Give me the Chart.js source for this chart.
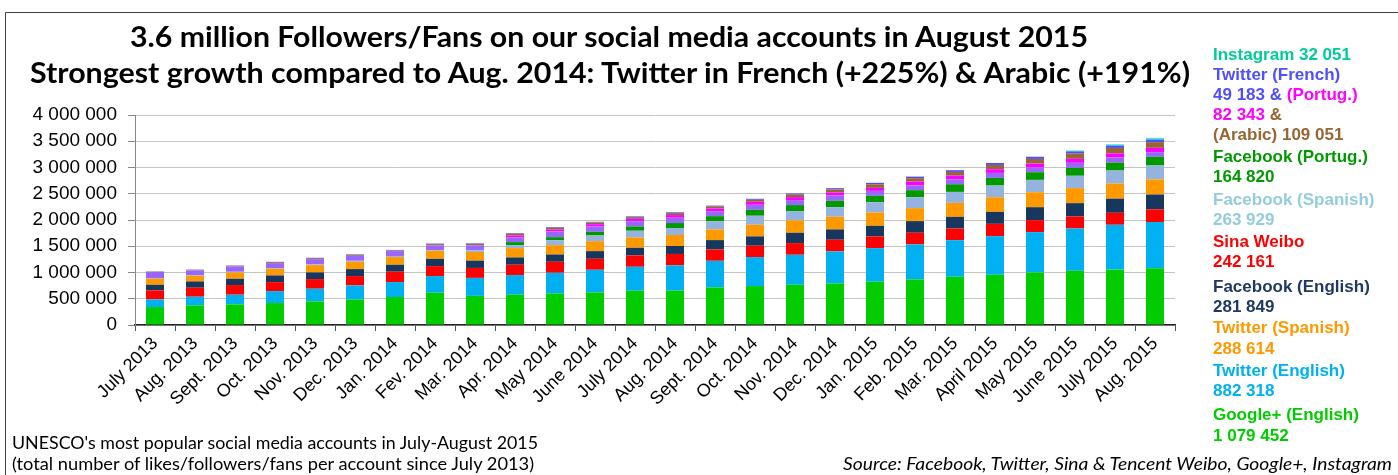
<!DOCTYPE html>
<html><head><meta charset="utf-8">
<script src="https://cdn.jsdelivr.net/npm/chart.js@4.4.0/dist/chart.umd.min.js"></script>
<style>
html,body{margin:0;padding:0;background:#fff;overflow:hidden}
#wrap{position:relative;width:1398px;height:475px;background:#fff}
canvas{position:absolute;left:0;top:0}
svg{position:absolute;left:0;top:0}
.lg{font-family:"Liberation Sans",Arial,sans-serif;font-weight:bold;font-size:17px}
.ttl{font-family:Lato,"Open Sans",sans-serif;font-weight:bold;font-size:28px;fill:#000}
.note{font-family:Lato,"Open Sans",sans-serif;font-size:18px;fill:#000}
</style></head><body>
<div id="wrap">
<canvas id="c" width="1398" height="475" style="width:1398px;height:475px"></canvas>
<svg width="1398" height="475" viewBox="0 0 1398 475">
  <line x1="5.5" y1="12.5" x2="1398" y2="12.5" stroke="#404040" stroke-width="1"/>
  <line x1="5.5" y1="12.5" x2="5.5" y2="475" stroke="#404040" stroke-width="1"/>
  <text class="ttl" x="130" y="47" textLength="958" lengthAdjust="spacingAndGlyphs">3.6 million Followers/Fans on our social media accounts in August 2015</text>
  <text class="ttl" x="30" y="83" textLength="1160" lengthAdjust="spacingAndGlyphs">Strongest growth compared to Aug. 2014: Twitter in French (+225%) &amp; Arabic (+191%)</text>
  <text class="lg" x="1213" y="60" fill="#00CC99">Instagram 32 051</text>
  <text class="lg" x="1213" y="80" fill="#4F4FFF">Twitter (French)</text>
  <text class="lg" x="1213" y="100"><tspan fill="#4F4FFF">49 183 &amp; </tspan><tspan fill="#FF00FF">(Portug.)</tspan></text>
  <text class="lg" x="1213" y="120"><tspan fill="#FF00FF">82 343 </tspan><tspan fill="#996633">&amp;</tspan></text>
  <text class="lg" x="1213" y="140" fill="#996633">(Arabic) 109 051</text>
  <text class="lg" x="1213" y="162" fill="#009900">Facebook (Portug.)</text>
  <text class="lg" x="1213" y="182" fill="#009900">164 820</text>
  <text class="lg" x="1213" y="205" fill="#93CDDD">Facebook (Spanish)</text>
  <text class="lg" x="1213" y="225" fill="#93CDDD">263 929</text>
  <text class="lg" x="1213" y="247" fill="#FF0000">Sina Weibo</text>
  <text class="lg" x="1213" y="267" fill="#FF0000">242 161</text>
  <text class="lg" x="1213" y="292" fill="#1F3864">Facebook (English)</text>
  <text class="lg" x="1213" y="312" fill="#1F3864">281 849</text>
  <text class="lg" x="1213" y="333" fill="#FF9900">Twitter (Spanish)</text>
  <text class="lg" x="1213" y="354" fill="#FF9900">288 614</text>
  <text class="lg" x="1213" y="376" fill="#00B0F0">Twitter (English)</text>
  <text class="lg" x="1213" y="396" fill="#00B0F0">882 318</text>
  <text class="lg" x="1213" y="420" fill="#00CC00">Google+ (English)</text>
  <text class="lg" x="1213" y="441" fill="#00CC00">1 079 452</text>
  <text class="note" x="12" y="449" textLength="526" lengthAdjust="spacingAndGlyphs">UNESCO's most popular social media accounts in July-August 2015</text>
  <text class="note" x="12" y="470" textLength="522" lengthAdjust="spacingAndGlyphs">(total number of likes/followers/fans per account since July 2013)</text>
  <text class="note" x="843" y="470" font-style="italic" textLength="549" lengthAdjust="spacingAndGlyphs">Source: Facebook, Twitter, Sina &amp; Tencent Weibo, Google+, Instagram</text>
</svg>
</div>
<script>
const categories = ["July 2013","Aug. 2013","Sept. 2013","Oct. 2013","Nov. 2013","Dec. 2013","Jan. 2014","Fev. 2014","Mar. 2014","Apr. 2014","May 2014","June 2014","July 2014","Aug. 2014","Sept. 2014","Oct. 2014","Nov. 2014","Dec. 2014","Jan. 2015","Feb. 2015","Mar. 2015","April 2015","May 2015","June 2015","July 2015","Aug. 2015"];

const googlePlusEnglish = [342000,374000,393000,418000,450000,488000,533000,615000,555000,577000,602000,621000,653000,655000,716000,742000,767000,793000,824000,869000,919000,957000,1002000,1033000,1059000,1079452];
const twitterEnglish    = [146000,165000,184000,228000,241000,266000,285000,317000,342000,374000,393000,431000,456000,482000,507000,552000,571000,609000,640000,666000,697000,735000,767000,805000,850000,882318];
const sinaWeibo         = [171000,171000,184000,171000,184000,178000,197000,190000,190000,197000,209000,209000,216000,216000,216000,216000,222000,222000,222000,222000,222000,235000,228000,228000,228000,242161];
const facebookEnglish   = [108000,120000,120000,127000,127000,133000,133000,139000,139000,139000,139000,146000,146000,152000,178000,178000,197000,197000,203000,222000,222000,228000,247000,255000,270000,281849];
const twitterSpanish    = [114000,108000,120000,127000,139000,139000,146000,152000,165000,178000,178000,190000,197000,209000,203000,222000,235000,241000,254000,247000,266000,279000,285000,286000,288000,288614];
const facebookSpanish   = [6000,13000,13000,13000,13000,19000,19000,13000,32000,57000,95000,108000,127000,133000,158000,171000,178000,184000,197000,209000,209000,222000,235000,235000,247000,263929];
const facebookPortug    = [0,0,0,0,0,0,0,0,0,57000,57000,70000,82000,95000,95000,114000,114000,120000,120000,133000,146000,146000,146000,152000,152000,164820];
const tencentWeibo      = [127000,89000,101000,95000,101000,95000,95000,89000,95000,89000,108000,101000,101000,101000,95000,95000,95000,101000,95000,89000,95000,95000,89000,95000,95000,89000];
const twitterPortug     = [0,0,0,0,0,0,0,0,0,38000,38000,44000,44000,51000,51000,57000,57000,57000,57000,76000,70000,70000,76000,76000,80000,82343];
const twitterArabic     = [5000,12000,15000,18000,18000,20000,12000,25000,24000,33000,32000,32000,33000,37500,38000,38000,48000,57000,68000,63000,70000,82000,89000,100000,104000,109051];
const twitterFrench     = [3000,4000,5000,6000,7000,9000,10000,11000,12000,12000,13000,14000,14000,15100,17000,19000,22000,25000,28000,30000,33000,37000,41000,42000,45000,49183];
const instagram         = [0,0,0,0,0,0,0,0,0,0,0,0,0,0,0,0,0,0,0,0,0,0,0,18000,25000,32051];

const yTickStep = 500000;
const yMax = 4000000;

const series = [
  {label:"Google+ (English)", data:googlePlusEnglish, color:"#00CC00"},
  {label:"Twitter (English)", data:twitterEnglish, color:"#00B0F0"},
  {label:"Sina Weibo", data:sinaWeibo, color:"#FF0000"},
  {label:"Facebook (English)", data:facebookEnglish, color:"#17375E"},
  {label:"Twitter (Spanish)", data:twitterSpanish, color:"#FF9900"},
  {label:"Facebook (Spanish)", data:facebookSpanish, color:"#95B3DF"},
  {label:"Facebook (Portug.)", data:facebookPortug, color:"#009900"},
  {label:"Tencent Weibo", data:tencentWeibo, color:"#9966FF"},
  {label:"Twitter (Portug.)", data:twitterPortug, color:"#FF00FF"},
  {label:"Twitter (Arabic)", data:twitterArabic, color:"#996633"},
  {label:"Twitter (French)", data:twitterFrench, color:"#4D4DFF"},
  {label:"Instagram", data:instagram, color:"#33EECC"}
];

function fmt(v){ return String(v).replace(/\B(?=(\d{3})+(?!\d))/g, ' '); }

new Chart(document.getElementById('c').getContext('2d'), {
  type: 'bar',
  data: {
    labels: categories,
    datasets: series.map(s => ({
      label: s.label, data: s.data, backgroundColor: s.color,
      borderWidth: 0, categoryPercentage: 0.9, barPercentage: 0.5
    }))
  },
  options: {
    responsive: false,
    animation: false,
    devicePixelRatio: 1,
    layout: {padding: {left: 10, right: 223, top: 115, bottom: 0}},
    plugins: {legend: {display: false}, tooltip: {enabled: false}, title: {display: false}},
    scales: {
      x: {
        stacked: true,
        grid: {display: true, drawOnChartArea: false, drawTicks: true, tickLength: 6, tickColor: '#555', offset: true},
        border: {display: true, color: '#222', width: 1.5},
        ticks: {minRotation: 45, maxRotation: 45, autoSkip: false, color: '#000',
                font: {family: '"Liberation Sans", Arial, sans-serif', size: 18}, padding: 2},
        afterFit(s){ s.height = 150; }
      },
      y: {
        stacked: true, min: 0, max: yMax,
        ticks: {stepSize: yTickStep, color: '#000', padding: 11,
                font: {family: '"Liberation Sans", Arial, sans-serif', size: 19},
                callback: v => fmt(v)},
        grid: {color: '#C4C4C4', tickColor: '#888', tickLength: 7},
        border: {display: true, color: '#888', width: 1},
        afterFit(s){ s.width = 125; }
      }
    }
  }
});
</script>
</body></html>
